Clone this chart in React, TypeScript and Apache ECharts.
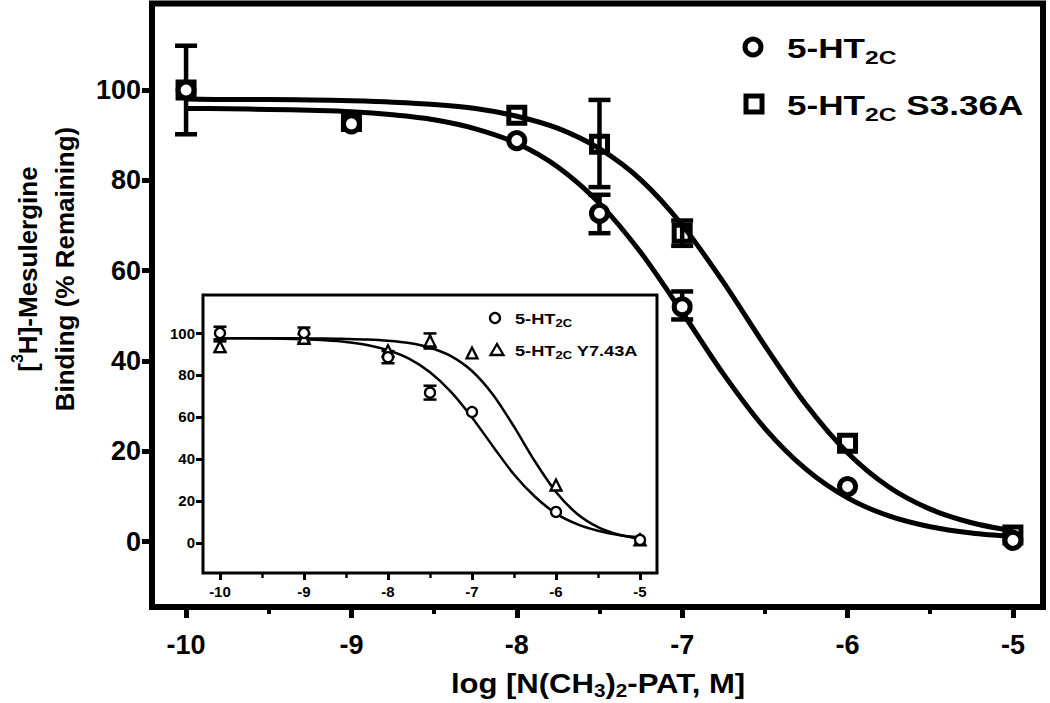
import React, { useEffect, useRef } from 'react';
import * as echarts from 'echarts';

const FONT = '"Liberation Sans", Arial, Helvetica, sans-serif';

const curveX = [-10, -9.75, -9.5, -9.25, -9, -8.75, -8.5, -8.25, -8, -7.75, -7.5, -7.25, -7, -6.75, -6.5, -6.25, -6, -5.75, -5.5, -5.25, -5];
const mainFitWT = [95.9, 95.85, 95.7, 95.5, 95.2, 94.5, 93.4, 91.4, 88.2, 82.9, 74.9, 64.0, 50.8, 37.1, 25.1, 16.0, 9.7, 5.7, 3.3, 1.9, 1.1];
const mainFitS336A = [98.0, 97.9, 97.9, 97.8, 97.6, 97.3, 96.8, 95.9, 94.2, 91.5, 87.0, 80.1, 70.1, 57.4, 43.4, 30.3, 19.7, 12.1, 7.2, 4.2, 2.4];
const insetFitWT = [97.5, 97.5, 97.4, 97.3, 97.0, 96.5, 95.7, 94.3, 91.8, 87.8, 81.3, 72.0, 59.8, 46.0, 32.6, 22.0, 14.0, 9.0, 5.8, 3.8, 2.6];
const insetFitY743A = [97.5, 97.5, 97.5, 97.5, 97.4, 97.4, 97.2, 96.9, 96.3, 95.2, 93.0, 89.0, 81.9, 70.6, 55.4, 38.8, 24.3, 13.9, 7.5, 3.9, 2.0];

// measured points
const doseX = [-10, -9, -8, -7.5, -7, -6, -5];
const mainWT = [100, 92.5, 88.8, 72.7, 52.0, 12.2, 0.3];
const mainS336A = [100, 93.0, 94.4, 88.0, 68.3, 21.8, 1.5];
const insetWT = [100, 100, 88.5, 71.6, 62.4, 14.8, 1.5];
const insetY743A = [93.5, 97.5, 91.5, 96.2, 90.5, 27.6, 1.5];

// error bars: [x, low, high]
const mainWTErr = [[-7.5, 68.3, 76.8], [-7, 49.2, 55.4]];
const mainS336AErr = [[-10, 90.2, 109.8], [-7.5, 78.5, 97.8], [-7, 65.5, 71.1]];
const insetWTErr = [[-10, 97, 103], [-9, 97.4, 102.6], [-8, 85.6, 91.4], [-7.5, 68.3, 74.9]];
const insetY743AErr = [[-10, 91, 96], [-9, 95.5, 99.5], [-7.5, 92.6, 99.8]];

// ticks
const xMajorTicks = [-10, -9, -8, -7, -6, -5];
const xMinorTicks = [-9.5, -8.5, -7.5, -6.5, -5.5];
const yTicks = [0, 20, 40, 60, 80, 100];

const pairs = (xs: number[], ys: number[]) => xs.map((x, i) => [x, ys[i]]);

const errorBar = (cap: number, width: number) => (params: any, api: any) => {
  const x = api.value(0);
  const a = api.coord([x, api.value(1)]);
  const b = api.coord([x, api.value(2)]);
  const style = { stroke: '#000', lineWidth: width, fill: 'none' };
  return {
    type: 'group',
    children: [
      { type: 'line', shape: { x1: a[0], y1: a[1], x2: b[0], y2: b[1] }, style },
      { type: 'line', shape: { x1: a[0] - cap, y1: a[1], x2: a[0] + cap, y2: a[1] }, style },
      { type: 'line', shape: { x1: b[0] - cap, y1: b[1], x2: b[0] + cap, y2: b[1] }, style },
    ],
  };
};

const bold = (size: number, extra: any = {}) => ({
  fontFamily: FONT,
  fontWeight: 'bold',
  fontSize: size,
  color: '#000',
  ...extra,
});

const gbold = (size: number, extra: any = {}) => ({
  fontFamily: FONT,
  fontWeight: 'bold',
  fontSize: size,
  fill: '#000',
  ...extra,
});

const legendText = (x: number, y: number, text: string, size: number, sub: number, lh: number, pad: number, sx: number) => ({
  type: 'text',
  x,
  y,
  scaleX: sx,
  z: 20,
  style: {
    text,
    align: 'left',
    verticalAlign: 'middle',
    ...gbold(size),
    rich: {
      m: gbold(size, { lineHeight: lh }),
      s: gbold(sub, { lineHeight: sub, padding: [pad, 0, 0, 0] }),
    },
  },
});

export default function App() {
  const ref = useRef<HTMLDivElement>(null);

  useEffect(() => {
    if (!ref.current) return;
    const chart = echarts.init(ref.current, undefined, { renderer: 'svg' });

    const mainX = { min: -10.206, max: -4.818 };
    const mainY = { min: -14.46, max: 119.15 };
    const insX = { min: -10.202, max: -4.798 };
    const insY = { min: -14.3, max: 118.1 };
    const noLine = { show: false, onZero: false };

    const option: any = {
      animation: false,
      backgroundColor: '#fff',
      grid: [
        { left: 152, top: 3.5, right: 7, bottom: 96, show: true, borderColor: '#000', borderWidth: 6, backgroundColor: 'transparent', containLabel: false },
        { left: 203, top: 295, right: 393, bottom: 130, show: true, borderColor: '#000', borderWidth: 3, backgroundColor: '#fff', containLabel: false },
      ],
      xAxis: [
        {
          gridIndex: 0, type: 'value', position: 'bottom', ...mainX,
          axisLine: noLine,
          splitLine: { show: false },
          axisTick: { show: true, customValues: xMajorTicks, length: 11, lineStyle: { color: '#000', width: 5 } },
          axisLabel: { show: true, customValues: xMajorTicks, margin: 24, ...bold(27) },
        },
        {
          gridIndex: 0, type: 'value', position: 'bottom', offset: 0, ...mainX,
          axisLine: noLine,
          splitLine: { show: false },
          axisTick: { show: true, customValues: xMinorTicks, length: 7, lineStyle: { color: '#000', width: 4 } },
          axisLabel: { show: false },
        },
        {
          gridIndex: 1, type: 'value', position: 'bottom', ...insX,
          axisLine: noLine,
          splitLine: { show: false },
          axisTick: { show: true, customValues: xMajorTicks, length: 7, lineStyle: { color: '#000', width: 3 } },
          axisLabel: { show: true, customValues: xMajorTicks, margin: 11, ...bold(15) },
        },
        {
          gridIndex: 1, type: 'value', position: 'bottom', offset: 0, ...insX,
          axisLine: noLine,
          splitLine: { show: false },
          axisTick: { show: true, customValues: xMinorTicks, length: 5, lineStyle: { color: '#000', width: 2.5 } },
          axisLabel: { show: false },
        },
      ],
      yAxis: [
        {
          gridIndex: 0, type: 'value', position: 'left', ...mainY,
          axisLine: noLine,
          splitLine: { show: false },
          axisTick: { show: true, customValues: yTicks, length: 10, lineStyle: { color: '#000', width: 5 } },
          axisLabel: { show: true, customValues: yTicks, margin: 11, ...bold(27) },
        },
        {
          gridIndex: 1, type: 'value', position: 'left', ...insY,
          axisLine: noLine,
          splitLine: { show: false },
          axisTick: { show: true, customValues: yTicks, length: 7, lineStyle: { color: '#000', width: 3 } },
          axisLabel: { show: true, customValues: yTicks, margin: 8, ...bold(15) },
        },
      ],
      graphic: [
        // y-axis title
        {
          type: 'text',
          x: 46.5,
          y: 269,
          rotation: Math.PI / 2,
          style: {
            text: '{m|[}{p|3}{m|H]-Mesulergine}\n{m|Binding (% Remaining)}',
            align: 'center',
            verticalAlign: 'middle',
            ...gbold(26),
            rich: {
              m: gbold(26, { lineHeight: 37 }),
              p: gbold(16, { lineHeight: 16, padding: [0, 0, 21, 0] }),
            },
          },
        },
        // x-axis title
        {
          type: 'text',
          x: 598,
          y: 684,
          scaleX: 1.15,
          style: {
            text: '{m|log [N(CH}{s|3}{m|)}{s|2}{m|-PAT, M]}',
            align: 'center',
            verticalAlign: 'middle',
            ...gbold(27),
            rich: {
              m: gbold(27, { lineHeight: 34 }),
              s: gbold(18, { lineHeight: 18, padding: [14, 0, 0, 0] }),
            },
          },
        },
        // main legend
        { type: 'circle', z: 20, shape: { cx: 753, cy: 47, r: 8 }, style: { fill: '#fff', stroke: '#000', lineWidth: 5 } },
        legendText(787, 48.5, '{m|5-HT}{s|2C}', 27, 19, 38, 19, 1.3),
        { type: 'rect', z: 20, shape: { x: 746, y: 96, width: 16, height: 16 }, style: { fill: '#fff', stroke: '#000', lineWidth: 5 } },
        legendText(787, 105.5, '{m|5-HT}{s|2C}{m| S3.36A}', 27, 19, 38, 19, 1.3),
        // inset legend
        { type: 'circle', z: 20, shape: { cx: 495, cy: 318, r: 5 }, style: { fill: '#fff', stroke: '#000', lineWidth: 2.3 } },
        legendText(515, 318.5, '{m|5-HT}{s|2C}', 14, 10, 20, 10, 1.3),
        { type: 'polygon', z: 20, shape: { points: [[497, 344], [503.5, 355], [490.5, 355]] }, style: { fill: '#fff', stroke: '#000', lineWidth: 2.3 } },
        legendText(515, 350.5, '{m|5-HT}{s|2C}{m| Y7.43A}', 14, 10, 20, 10, 1.3),
      ],
      series: [
        // main fitted curves
        { name: 'fit 5-HT2C', type: 'line', xAxisIndex: 0, yAxisIndex: 0, data: pairs(curveX, mainFitWT), smooth: 0.3, showSymbol: false, symbol: 'none', lineStyle: { color: '#000', width: 5 }, z: 2, silent: true },
        { name: 'fit 5-HT2C S3.36A', type: 'line', xAxisIndex: 0, yAxisIndex: 0, data: pairs(curveX, mainFitS336A), smooth: 0.3, showSymbol: false, symbol: 'none', lineStyle: { color: '#000', width: 5 }, z: 2, silent: true },
        // main error bars
        { name: 'err 5-HT2C', type: 'custom', xAxisIndex: 0, yAxisIndex: 0, coordinateSystem: 'cartesian2d', data: mainWTErr, encode: { x: 0, y: [1, 2] }, renderItem: errorBar(11, 4.5), z: 3, silent: true },
        { name: 'err 5-HT2C S3.36A', type: 'custom', xAxisIndex: 0, yAxisIndex: 0, coordinateSystem: 'cartesian2d', data: mainS336AErr, encode: { x: 0, y: [1, 2] }, renderItem: errorBar(11, 4.5), z: 3, silent: true },
        // main points
        { name: '5-HT2C S3.36A', type: 'scatter', xAxisIndex: 0, yAxisIndex: 0, data: pairs(doseX, mainS336A), symbol: 'rect', symbolSize: 16, itemStyle: { color: 'rgba(255,255,255,0)', borderColor: '#000', borderWidth: 5, opacity: 1 }, z: 4 },
        { name: '5-HT2C', type: 'scatter', xAxisIndex: 0, yAxisIndex: 0, data: pairs(doseX, mainWT), symbol: 'circle', symbolSize: 16, itemStyle: { color: '#fff', borderColor: '#000', borderWidth: 5, opacity: 1 }, z: 5 },
        // inset curves
        { name: 'fit inset 5-HT2C', type: 'line', xAxisIndex: 2, yAxisIndex: 1, data: pairs(curveX, insetFitWT), smooth: 0.3, showSymbol: false, symbol: 'none', lineStyle: { color: '#000', width: 2.5 }, z: 6, silent: true },
        { name: 'fit inset 5-HT2C Y7.43A', type: 'line', xAxisIndex: 2, yAxisIndex: 1, data: pairs(curveX, insetFitY743A), smooth: 0.3, showSymbol: false, symbol: 'none', lineStyle: { color: '#000', width: 2.5 }, z: 6, silent: true },
        { name: 'err inset 5-HT2C', type: 'custom', xAxisIndex: 2, yAxisIndex: 1, coordinateSystem: 'cartesian2d', data: insetWTErr, encode: { x: 0, y: [1, 2] }, renderItem: errorBar(6.5, 2.5), z: 7, silent: true },
        { name: 'err inset 5-HT2C Y7.43A', type: 'custom', xAxisIndex: 2, yAxisIndex: 1, coordinateSystem: 'cartesian2d', data: insetY743AErr, encode: { x: 0, y: [1, 2] }, renderItem: errorBar(6.5, 2.5), z: 7, silent: true },
        { name: '5-HT2C Y7.43A', type: 'scatter', xAxisIndex: 2, yAxisIndex: 1, data: pairs(doseX, insetY743A), symbol: 'triangle', symbolSize: 11, itemStyle: { color: '#fff', borderColor: '#000', borderWidth: 2.3, opacity: 1 }, z: 8 },
        { name: '5-HT2C (inset)', type: 'scatter', xAxisIndex: 2, yAxisIndex: 1, data: pairs(doseX, insetWT), symbol: 'circle', symbolSize: 10, itemStyle: { color: '#fff', borderColor: '#000', borderWidth: 2.3, opacity: 1 }, z: 9 },
      ],
    };

    chart.setOption(option);
    return () => chart.dispose();
  }, []);

  return (
    <div
      ref={ref}
      style={{ position: 'absolute', left: 0, top: 0, width: 1050, height: 703, background: '#fff' }}
    />
  );
}
